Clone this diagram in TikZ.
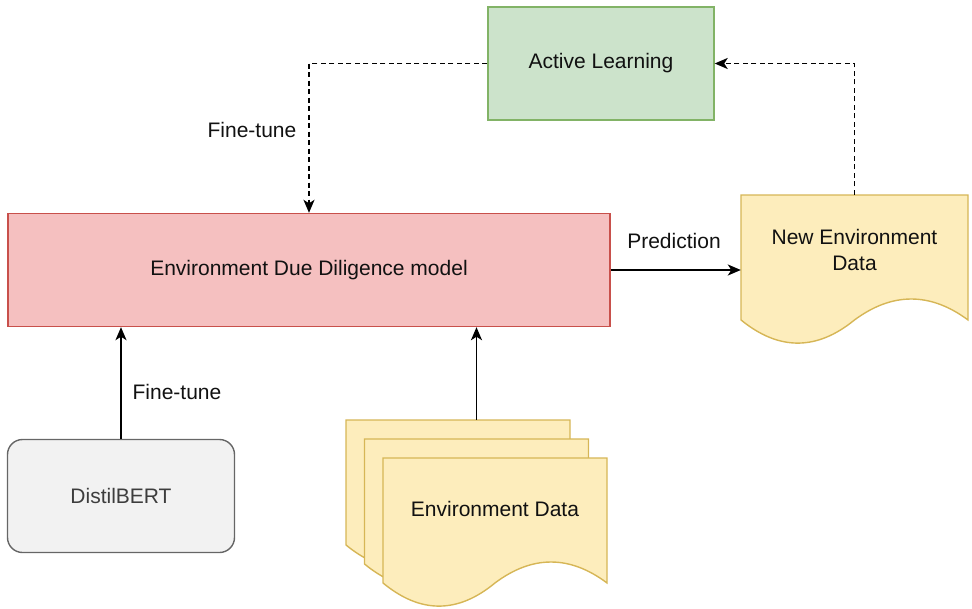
\documentclass[tikz,border=0pt]{standalone}
\usepackage{fontspec}
\setmainfont{Liberation Sans}
\usetikzlibrary{arrows.meta,calc}
\definecolor{redfill}{HTML}{F5C0C0}
\definecolor{redline}{HTML}{C8504B}
\definecolor{greenfill}{HTML}{CCE3CB}
\definecolor{greenline}{HTML}{82B366}
\definecolor{yelfill}{HTML}{FDEDBC}
\definecolor{yelline}{HTML}{D6B656}
\definecolor{grayfill}{HTML}{F2F2F2}
\definecolor{grayline}{HTML}{666666}
\definecolor{txt}{HTML}{111111}
\newcommand\docshape[5]{%
  \path[#1] (#2,#3) -- (#2+#4,#3) -- (#2+#4,#3+0.85*#5)
    .. controls (#2+0.8333*#4,#3+0.66*#5) and (#2+0.6667*#4,#3+0.66*#5) .. (#2+0.5*#4,#3+0.85*#5)
    .. controls (#2+0.3333*#4,#3+1.06*#5) and (#2+0.1667*#4,#3+1.06*#5) .. (#2,#3+0.85*#5) -- cycle;}
\tikzset{
  lbl/.style={font=\fontsize{21}{26}\selectfont, text=txt, inner sep=0pt},
  boxnode/.style={lbl, minimum width=#1, minimum height=113pt, line width=1.4pt},
  docstyle/.style={fill=yelfill, draw=yelline, line width=1.4pt},
  arr/.style={line width=1.8pt, draw=black, -{Stealth[length=13pt,width=11pt,inset=3.5pt]}},
  darr/.style={arr, dash pattern=on 5pt off 3.5pt},
}
\begin{document}
\begin{tikzpicture}[x=1pt,y=-1pt]
\useasboundingbox (0,0) rectangle (972,608);
% boxes
\node[boxnode=226pt, fill=greenfill, draw=greenline] (al) at (601,63.5) {Active Learning};
\node[boxnode=602pt, fill=redfill, draw=redline] (red) at (309,270) {Environment Due Diligence model};
\node[boxnode=227pt, minimum height=113pt, fill=grayfill, draw=grayline, rounded corners=15pt, text=grayline!60!black] (distil) at (121,496) {DistilBERT};
% new environment data document
\docshape{docstyle}{741}{195}{227}{147}
\node[minimum width=227pt, minimum height=147pt, inner sep=0pt] (newdata) at (854.5,268.5) {};
\node[lbl, align=center] (newdatatxt) at (854.5,249.5) {New Environment\\Data};
% environment data stack
\docshape{docstyle}{346}{420}{224}{147}
\docshape{docstyle}{364.5}{439}{224}{147}
\docshape{docstyle}{383}{458}{224}{147}
\node[minimum width=261pt, minimum height=185pt, inner sep=0pt] (envdata) at (476.5,512.5) {};
\node[lbl] (envdatatxt) at (495,508.5) {Environment Data};
% connectors
\draw[arr] (distil.north) -- (distil.north |- red.south);
\draw[arr] (envdata.north) -- (envdata.north |- red.south);
\draw[arr] (red.east) -- (newdata.west |- red.east);
\draw[darr] (al.west) -| (red.north);
\draw[darr] (newdata.north) |- (al.east);
% labels
\node[lbl] (ft1) at (177,392) {Fine-tune};
\node[lbl] (ft2) at (252,130) {Fine-tune};
\node[lbl] (pred) at (674,241) {Prediction};
\end{tikzpicture}
\end{document}
